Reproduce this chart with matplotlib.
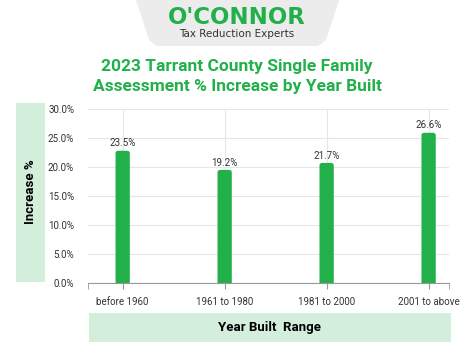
import matplotlib
matplotlib.use("Agg")
import matplotlib.pyplot as plt
from matplotlib.patches import Rectangle, Polygon, FancyBboxPatch

plt.rcParams["font.family"] = ["Roboto", "DejaVu Sans"]

GREEN, LIGHT, INK, GRID = "#22b04b", "#d3eedb", "#222222", "#e6e6e6"

# ---- data ------------------------------------------------------------------
categories = ["before 1960", "1961 to 1980", "1981 to 2000", "2001 to above"]
bar_heights = [22.8, 19.5, 20.7, 25.9]          # as drawn in the source
bar_labels = ["23.5%", "19.2%", "21.7%", "26.6%"]  # as printed above bars
yticks = [0, 5, 10, 15, 20, 25, 30]

W, H = 474, 351
fig = plt.figure(figsize=(W / 100, H / 100), dpi=100)

def fx(px): return px / W
def fy(py): return 1 - py / H

# ---- logo banner -------------------------------------------------------------
logo = Polygon([(fx(136), fy(0)), (fx(339), fy(0)), (fx(326), fy(40)),
                (fx(318), fy(46)), (fx(157), fy(46)), (fx(149), fy(40))],
               closed=True, transform=fig.transFigure, fc="#ececec", ec="none")
fig.patches.append(logo)
fig.text(fx(237), fy(18), "O'CONNOR", color=GREEN, fontsize=16.5, fontweight="bold",
         family="DejaVu Sans", ha="center", va="center")
fig.text(fx(237), fy(34), "Tax Reduction Experts", color="#333333", fontsize=7.5,
         family="DejaVu Sans", ha="center", va="center")

# ---- title -------------------------------------------------------------------
fig.text(fx(237), fy(66), "2023 Tarrant County Single Family", color=GREEN,
         fontsize=12.5, fontweight="bold", ha="center", va="center")
fig.text(fx(237), fy(86), "Assessment % Increase by Year Built", color=GREEN,
         fontsize=12.5, fontweight="bold", ha="center", va="center")

# ---- side / bottom label boxes ----------------------------------------------
fig.patches.append(Rectangle((fx(16), fy(282)), fx(29), 179 / H,
                             transform=fig.transFigure, fc=LIGHT, ec="none"))
fig.text(fx(30.5), fy(192), "Increase %", rotation=90, fontsize=9.5, fontweight="bold",
         color="black", ha="center", va="center")
fig.patches.append(Rectangle((fx(89), fy(342)), fx(362), 29 / H,
                             transform=fig.transFigure, fc=LIGHT, ec="none"))
fig.text(fx(270), fy(327.5), "Year Built  Range", fontsize=9.5, fontweight="bold",
         color="black", ha="center", va="center")

# ---- bar chart ---------------------------------------------------------------
ax = fig.add_axes([fx(88), fy(283), fx(361), 174 / H])
x = range(len(categories))
bars = ax.bar(x, bar_heights, width=0.14, color=GREEN, zorder=3)
# swap plain rectangles for ones with rounded tops (bottom rounding is clipped away)
for b in bars:
    b.set_visible(False)
    ax.add_patch(FancyBboxPatch((b.get_x(), -1), b.get_width(), b.get_height() + 1,
                                boxstyle="round,pad=0,rounding_size=0.025",
                                mutation_aspect=17, fc=GREEN, ec="none", zorder=3))
for b, lab in zip(bars, bar_labels):
    ax.text(b.get_x() + b.get_width() / 2, b.get_height() + 0.4, lab, ha="center",
            va="bottom", fontsize=7, color="#333333")

ax.set_ylim(0, 30)
ax.set_xlim(-0.34, 3.2)
ax.set_yticks(yticks)
ax.set_yticklabels([f"{v:.1f}%" for v in yticks])
ax.set_xticks(list(x))
ax.set_xticklabels(categories)
ax.set_xticks([-0.34, 3.2], minor=True)
ax.tick_params(axis="y", length=0, labelsize=7, labelcolor="#333333", pad=10)
ax.tick_params(axis="x", which="both", length=4, color="#999999", labelsize=7,
               labelcolor="#333333", pad=6)
ax.grid(color=GRID, lw=0.8, zorder=0)
for s in ("top", "right", "left"):
    ax.spines[s].set_visible(False)
ax.spines["bottom"].set_color("#999999")
ax.spines["bottom"].set_zorder(4)

fig.savefig("out.png", dpi=100, facecolor="white")
